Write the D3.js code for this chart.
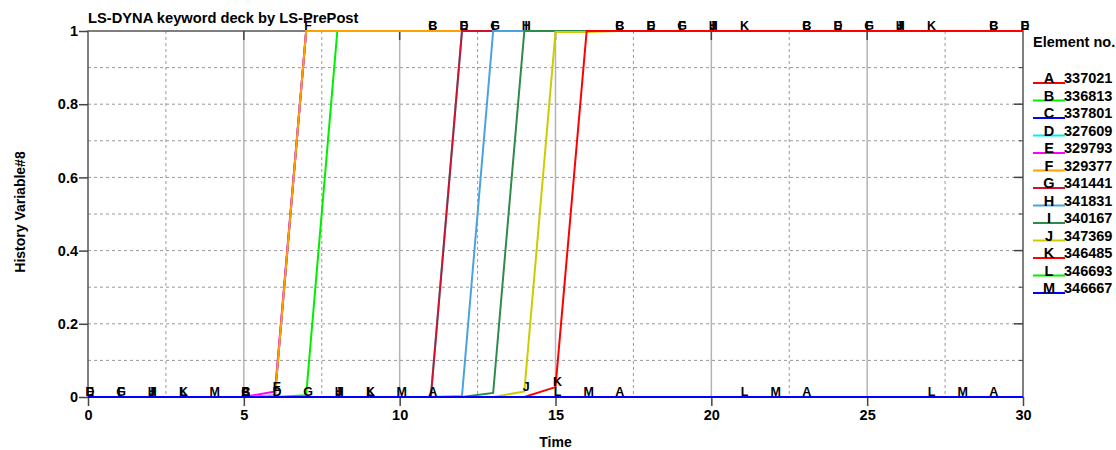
<!DOCTYPE html>
<html>
<head>
<meta charset="utf-8">
<script src="https://cdn.jsdelivr.net/npm/d3@7"></script>
<style>
  body { margin: 0; background: #fff; }
  text { font-family: "Liberation Sans", Arial, sans-serif; font-weight: bold; }
</style>
</head>
<body>
<div id="chart"></div>
<script>
// time steps
var times = d3.range(0, 31);

// curve data, one array per element
var curveA = [0,0,0,0,0,0,0,0,0,0,0,0,0,0,0,0,0,0,0,0,0,0,0,0,0,0,0,0,0,0,0];
var curveB = [0,0,0,0,0,0,0,0.005,1,1,1,1,1,1,1,1,1,1,1,1,1,1,1,1,1,1,1,1,1,1,1];
var curveC = [0,0,0,0,0,0,0.004,1,1,1,1,1,1,1,1,1,1,1,1,1,1,1,1,1,1,1,1,1,1,1,1];
var curveD = [0,0,0,0,0,0,0,0,0,0,0,0,1,1,1,1,1,1,1,1,1,1,1,1,1,1,1,1,1,1,1];
var curveE = [0,0,0,0,0,0,0.015,1,1,1,1,1,1,1,1,1,1,1,1,1,1,1,1,1,1,1,1,1,1,1,1];
var curveF = [0,0,0,0,0,0,0.004,1,1,1,1,1,1,1,1,1,1,1,1,1,1,1,1,1,1,1,1,1,1,1,1];
var curveG = [0,0,0,0,0,0,0,0,0,0,0,0,1,1,1,1,1,1,1,1,1,1,1,1,1,1,1,1,1,1,1];
var curveH = [0,0,0,0,0,0,0,0,0,0,0,0,0.003,1,1,1,1,1,1,1,1,1,1,1,1,1,1,1,1,1,1];
var curveI = [0,0,0,0,0,0,0,0,0,0,0,0,0,0.011,1,1,1,1,1,1,1,1,1,1,1,1,1,1,1,1,1];
var curveJ = [0,0,0,0,0,0,0,0,0,0,0,0,0,0,0.015,0.997,0.997,1,1,1,1,1,1,1,1,1,1,1,1,1,1];
var curveK = [0,0,0,0,0,0,0,0,0,0,0,0,0,0,0,0.027,1,1,1,1,1,1,1,1,1,1,1,1,1,1,1];
var curveL = [0,0,0,0,0,0,0,0,0,0,0,0,0,0,0,0,0,0,0,0,0,0,0,0,0,0,0,0,0,0,0];
var curveM = [0,0,0,0,0,0,0,0,0,0,0,0,0,0,0,0,0,0,0,0,0,0,0,0,0,0,0,0,0,0,0];

var letters = ["A","B","C","D","E","F","G","H","I","J","K","L","M"];
var elementIds = ["337021","336813","337801","327609","329793","329377","341441",
                  "341831","340167","347369","346485","346693","346667"];
var colors = ["#ff0000","#00ee00","#0000ff","#00eeee","#ff00ff","#ffa000","#d0102c",
              "#4aa3df","#2e8b4a","#cccc00","#ff0000","#00ee00","#0000ff"];
// first time step where each curve gets its letter, then every 6 steps
var labelStart = [5,5,5,0,0,1,1,2,2,2,3,3,4];

var xTicks = [0, 5, 10, 15, 20, 25, 30];
var xMinor = [2.5, 7.5, 12.5, 17.5, 22.5, 27.5];
var yTicks = [0, 0.2, 0.4, 0.6, 0.8, 1];
var yMinor = [0.1, 0.3, 0.5, 0.7, 0.9];

var curves = [curveA, curveB, curveC, curveD, curveE, curveF, curveG,
              curveH, curveI, curveJ, curveK, curveL, curveM];

var W = 1116, H = 450;
var plotLeft = 88, plotRight = 1023, plotTop = 31, plotBottom = 397;

var xScale = d3.scaleLinear().domain([0, 30]).range([plotLeft, plotRight]);
var yScale = d3.scaleLinear().domain([0, 1]).range([plotBottom, plotTop]);

var svg = d3.select("#chart").append("svg")
            .attr("width", W)
            .attr("height", H);

// grid
svg.selectAll(".vgrid").data(xTicks.slice(1, -1)).enter().append("line")
   .attr("x1", function(d) { return xScale(d); })
   .attr("x2", function(d) { return xScale(d); })
   .attr("y1", plotTop).attr("y2", plotBottom)
   .attr("stroke", "#b4b4b4").attr("stroke-width", 1.5);

svg.selectAll(".vminor").data(xMinor).enter().append("line")
   .attr("x1", function(d) { return xScale(d); })
   .attr("x2", function(d) { return xScale(d); })
   .attr("y1", plotTop).attr("y2", plotBottom)
   .attr("stroke", "#999").attr("stroke-dasharray", "3,3");

svg.selectAll(".hgrid").data(yMinor.concat(yTicks.slice(1, -1))).enter().append("line")
   .attr("x1", plotLeft).attr("x2", plotRight)
   .attr("y1", function(d) { return yScale(d); })
   .attr("y2", function(d) { return yScale(d); })
   .attr("stroke", "#999").attr("stroke-dasharray", "3,3");

// frame
svg.append("rect")
   .attr("x", plotLeft).attr("y", plotTop)
   .attr("width", plotRight - plotLeft).attr("height", plotBottom - plotTop)
   .attr("fill", "none").attr("stroke", "#555").attr("stroke-width", 1.5);

// inner ticks on top and right
svg.selectAll(".ttick").data(xTicks.slice(1, -1)).enter().append("line")
   .attr("x1", function(d) { return xScale(d); })
   .attr("x2", function(d) { return xScale(d); })
   .attr("y1", plotTop).attr("y2", plotTop + 9)
   .attr("stroke", "#444").attr("stroke-width", 1.5);

svg.selectAll(".rtick").data(yTicks).enter().append("line")
   .attr("x1", plotRight - 9).attr("x2", plotRight)
   .attr("y1", function(d) { return yScale(d); })
   .attr("y2", function(d) { return yScale(d); })
   .attr("stroke", "#444").attr("stroke-width", 1.5);

svg.selectAll(".rminor").data(yMinor).enter().append("line")
   .attr("x1", plotRight - 4).attr("x2", plotRight)
   .attr("y1", function(d) { return yScale(d); })
   .attr("y2", function(d) { return yScale(d); })
   .attr("stroke", "#444");

// axes
var xAxis = svg.append("g")
               .attr("transform", "translate(0," + plotBottom + ")")
               .call(d3.axisBottom(xScale).tickValues(xTicks).tickSize(9).tickPadding(4)
                       .tickFormat(d3.format("d")));
var yAxis = svg.append("g")
               .attr("transform", "translate(" + plotLeft + ",0)")
               .call(d3.axisLeft(yScale).tickValues(yTicks).tickSize(9).tickPadding(1)
                       .tickFormat(function(d) { return d == 0 || d == 1 ? d : d3.format(".1f")(d); }));

[xAxis, yAxis].forEach(function(ax) {
    ax.select(".domain").remove();
    ax.selectAll(".tick line").attr("stroke", "#444").attr("stroke-width", 1.5);
    ax.selectAll(".tick text")
      .attr("fill", "#000")
      .style("font-size", "14.5px")
      .style("font-family", "Liberation Sans, Arial, sans-serif")
      .style("font-weight", "bold");
});

// curves
var lineGen = d3.line()
                .x(function(d, i) { return xScale(times[i]); })
                .y(function(d) { return yScale(d); });

curves.forEach(function(c, k) {
    svg.append("path")
       .attr("d", lineGen(c))
       .attr("stroke", colors[k])
       .attr("stroke-width", 2)
       .attr("fill", "none");
});

// curve letters
curves.forEach(function(c, k) {
    for (var t = labelStart[k]; t <= 30; t += 6) {
        svg.append("text")
           .attr("x", xScale(times[t]) + 2)
           .attr("y", yScale(c[t]) - 1)
           .attr("text-anchor", "middle")
           .style("font-size", "12.5px")
           .text(letters[k]);
    }
});

// title and axis labels
svg.append("text")
   .attr("x", plotLeft)
   .attr("y", 23)
   .style("font-size", "14.7px")
   .text("LS-DYNA keyword deck by LS-PrePost");

svg.append("text")
   .attr("x", xScale(15))
   .attr("y", 447)
   .attr("text-anchor", "middle")
   .style("font-size", "14px")
   .text("Time");

svg.append("text")
   .attr("transform", "translate(25," + 212 + ") rotate(-90)")
   .attr("text-anchor", "middle")
   .style("font-size", "14px")
   .text("History Variable#8");

// legend
svg.append("text")
   .attr("x", 1033)
   .attr("y", 47)
   .style("font-size", "14.5px")
   .text("Element no.");

var legend = svg.selectAll(".legend").data(letters).enter().append("g")
                .attr("transform", function(d, i) { return "translate(0," + (83 + i * 17.5) + ")"; });

legend.append("line")
      .attr("x1", 1033).attr("x2", 1065)
      .attr("y1", 0).attr("y2", 0)
      .attr("stroke", function(d, i) { return colors[i]; })
      .attr("stroke-width", 2);

legend.append("text")
      .attr("x", 1049).attr("y", 0)
      .attr("text-anchor", "middle")
      .style("font-size", "14.5px")
      .text(function(d) { return d; });

legend.append("text")
      .attr("x", 1064).attr("y", 0)
      .style("font-size", "14.5px")
      .text(function(d, i) { return elementIds[i]; });
</script>
</body>
</html>
